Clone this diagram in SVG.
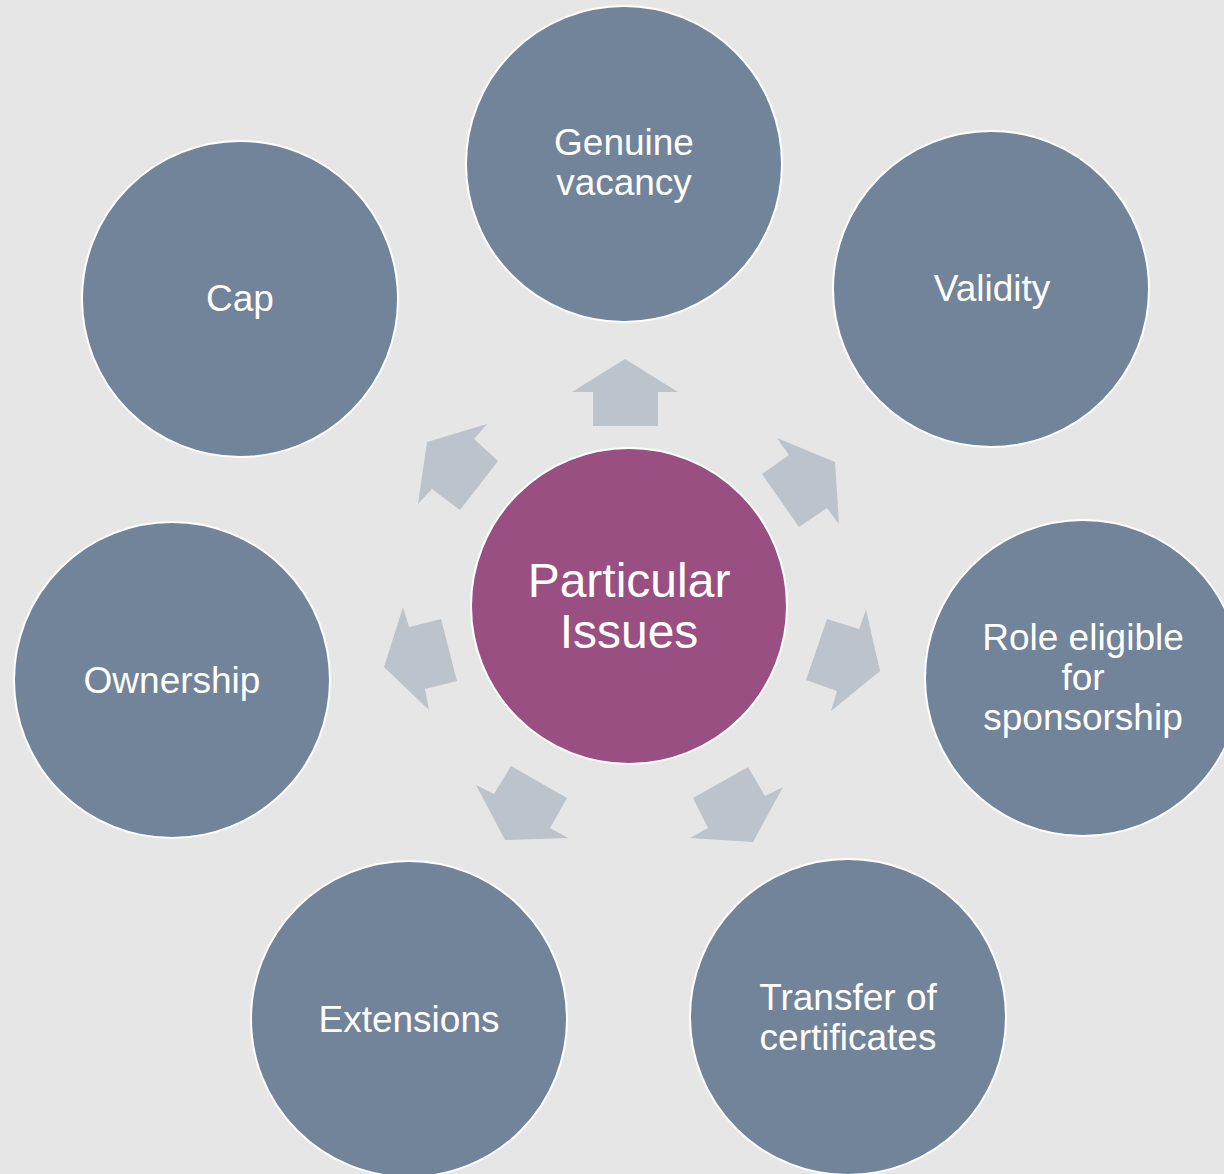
<svg xmlns="http://www.w3.org/2000/svg" width="1224" height="1174" viewBox="0 0 1224 1174">
<style>
.node{fill:#71849a;stroke:#ffffff;stroke-width:2}
.center{fill:#994f82;stroke:#ffffff;stroke-width:2}
.lbl{font-family:"Liberation Sans",Arial,sans-serif;font-size:37px;fill:#ffffff;text-anchor:middle}
.clbl{font-family:"Liberation Sans",Arial,sans-serif;font-size:48px;fill:#ffffff;text-anchor:middle}
.arrow{fill:#bdc3cb}
</style>
<rect width="1224" height="1174" fill="#e6e6e6"/>
<g id="connectors">
<polygon class="arrow" points="625,359 678,392 658,392 658,426 593,426 593,392 572,392"/>
<polygon class="arrow" points="835,462 839,524 827,508 799,527 762,474 789,455 777,438"/>
<polygon class="arrow" points="880,671 831,711 837,691 806,680 827,619 859,629 866,610"/>
<polygon class="arrow" points="753,842 690,838 708,828 693,798 748,767 765,796 783,787"/>
<polygon class="arrow" points="505,840 476,785 494,794 511,766 567,798 550,828 568,838"/>
<polygon class="arrow" points="384,667 403,607 409,627 441,619 457,681 425,689 429,710"/>
<polygon class="arrow" points="427,442 487,424 474,439 498,461 460,510 432,489 418,504"/>
</g>
<g id="node-center">
<circle class="center" cx="629" cy="606" r="158"/>
<text class="clbl" x="629" y="597">Particular</text>
<text class="clbl" x="629" y="648">Issues</text>
</g>
<g id="node-genuine-vacancy">
<circle class="node" cx="624" cy="164" r="158"/>
<text class="lbl" x="624" y="155">Genuine</text>
<text class="lbl" x="624" y="195">vacancy</text>
</g>
<g id="node-validity">
<circle class="node" cx="991" cy="289" r="158"/>
<text class="lbl" x="992" y="301">Validity</text>
</g>
<g id="node-role-eligible">
<circle class="node" cx="1083" cy="678" r="158"/>
<text class="lbl" x="1083" y="650">Role eligible</text>
<text class="lbl" x="1083" y="690">for</text>
<text class="lbl" x="1083" y="730">sponsorship</text>
</g>
<g id="node-transfer">
<circle class="node" cx="848" cy="1017" r="158"/>
<text class="lbl" x="848" y="1010">Transfer of</text>
<text class="lbl" x="848" y="1050">certificates</text>
</g>
<g id="node-extensions">
<circle class="node" cx="409" cy="1019" r="158"/>
<text class="lbl" x="409" y="1032">Extensions</text>
</g>
<g id="node-ownership">
<circle class="node" cx="172" cy="680" r="158"/>
<text class="lbl" x="172" y="693">Ownership</text>
</g>
<g id="node-cap">
<circle class="node" cx="240" cy="299" r="158"/>
<text class="lbl" x="240" y="311">Cap</text>
</g>
</svg>
